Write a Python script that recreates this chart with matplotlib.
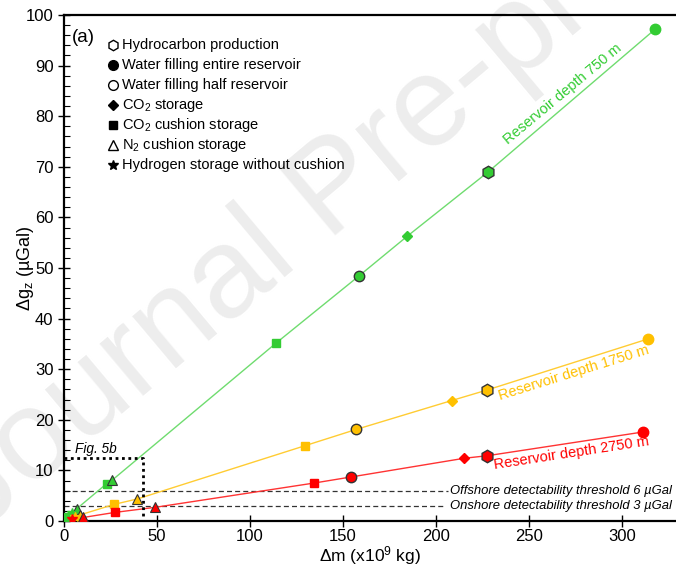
import numpy as np
import matplotlib
matplotlib.use('Agg')
import matplotlib.pyplot as plt

plt.rcParams['font.family'] = ['Liberation Sans', 'DejaVu Sans']
plt.rcParams['mathtext.fontset'] = 'custom'
plt.rcParams['mathtext.rm'] = 'Liberation Sans'
plt.rcParams['mathtext.it'] = 'Liberation Sans:italic'

#Depths and colours
depths = ['750 m', '1750 m', '2750 m']
colors = ['#33cc33', '#ffc000', '#ff0000']
line_colors = ['#6fdc6f', '#ffcc33', '#ff3333']

#Hydrocarbon production (hexagons)
hc_x = [228.2, 227.7, 227.7]
hc_y = [69.0, 25.9, 12.9]
#Water filling entire reservoir
full_x = [318.0, 314.3, 311.6]
full_y = [97.2, 36.0, 17.6]
#Water filling half reservoir
half_x = [158.9, 157.2, 154.4]
half_y = [48.5, 18.1, 8.7]
#CO2 storage
co2_x = [184.7, 208.5, 215.3]
co2_y = [56.3, 23.8, 12.4]
#CO2 cushion storage
cush_x = [[114.2, 23.0, 2.0], [129.8, 27.1], [134.5, 27.4]]
cush_y = [[35.2, 7.4, 0.8], [14.9, 3.3], [7.5, 1.7]]
#N2 cushion storage
n2_x = [[26.0, 6.8], [39.4, 8.6], [49.0, 10.4]]
n2_y = [[8.1, 2.4], [4.35, 1.2], [2.7, 0.7]]
#Hydrogen storage without cushion
h2_x = [[1.5, 4.5], [6.0], [4.5]]
h2_y = [[0.6, 1.5], [0.8], [0.35]]

#Thresholds and zoom box
thr_y = [6, 3]
thr_end = [206.5, 204.0]
thr_txt = ['Offshore detectability threshold 6 \u00b5Gal',
           'Onshore detectability threshold 3 \u00b5Gal']
box_x, box_y = 42.4, 12.4

#Label positions along the lines (x), above (+1) or below (-1)
lab_x = [272.0, 272.7, 272.0]
lab_side = [1, -1, -1]

#Legend
leg_labels = ['Hydrocarbon production', 'Water filling entire reservoir',
              'Water filling half reservoir', 'CO$_2$ storage', 'CO$_2$ cushion storage',
              'N$_2$ cushion storage', 'Hydrogen storage without cushion']
leg_markers = ['h', 'o', 'o', 'D', 's', '^', '*']
leg_filled = [False, True, False, True, True, False, True]
leg_sizes = [7.5, 7, 7, 5.5, 6, 7.5, 7.5]

W, H = 676, 567
fig = plt.figure(figsize=(W/100, H/100), dpi=100)
ax = fig.add_axes([64/W, 1-521/H, 1.0-64/W, (521-15)/H])
ax.set_xlim(0, 329.2)
ax.set_ylim(0, 100)

#Watermark (behind the axes)
fig.text(-0.03, 0.06, 'Journal Pre-proof', fontsize=92, color='#ededed',
         rotation=40, rotation_mode='anchor', ha='left', va='baseline', zorder=-1)
ax.set_facecolor('none')

for i in range(3):
    c = colors[i]
    xs = [0] + [hc_x[i], full_x[i], half_x[i], co2_x[i]] + cush_x[i] + n2_x[i] + h2_x[i]
    ys = [0] + [hc_y[i], full_y[i], half_y[i], co2_y[i]] + cush_y[i] + n2_y[i] + h2_y[i]
    order = np.argsort(xs)
    xs = np.array(xs)[order]
    ys = np.array(ys)[order]
    ax.plot(xs, ys, '-', color=line_colors[i], lw=1, zorder=2)
    ax.plot(full_x[i], full_y[i], 'o', ms=7.5, color=c, mec=c, zorder=4)
    ax.plot(hc_x[i], hc_y[i], 'h', ms=9, color=c, mec='#333333', mew=1, zorder=4)
    ax.plot(half_x[i], half_y[i], 'o', ms=7.5, color=c, mec='#333333', mew=1, zorder=4)
    ax.plot(co2_x[i], co2_y[i], 'D', ms=5.5, color=c, mec=c, zorder=4)
    ax.plot(cush_x[i], cush_y[i], 's', ms=6, color=c, mec=c, lw=0, zorder=4)
    ax.plot(n2_x[i], n2_y[i], '^', ms=7, color=c, mec='#333333', mew=0.8, lw=0, zorder=4)
    ax.plot(h2_x[i], h2_y[i], '*', ms=7, color=c, mec=c, lw=0, zorder=4)
    #label along the line
    p0 = ax.transData.transform((0, 0))
    p1 = ax.transData.transform((full_x[i], full_y[i]))
    ang = np.degrees(np.arctan2(p1[1]-p0[1], p1[0]-p0[0]))
    ly = np.interp(lab_x[i], xs, ys)
    off = 2.5*lab_side[i]
    ax.annotate('Reservoir depth ' + depths[i], xy=(lab_x[i], ly),
                xytext=(-off*np.sin(np.radians(ang)), off*np.cos(np.radians(ang))),
                textcoords='offset points', color=c, fontsize=10.5, rotation=ang,
                rotation_mode='anchor', ha='center',
                va='bottom' if lab_side[i] > 0 else 'top', zorder=5)

#Thresholds
for y, e, t in zip(thr_y, thr_end, thr_txt):
    ax.hlines(y, 0, e, color='#333333', ls=(0, (4, 2.5)), lw=0.9, zorder=1)
    ax.text(327.0, y, t, fontsize=9.4, style='italic', ha='right', va='center', zorder=3)

#Fig 5b box
ax.plot([0, box_x, box_x], [box_y, box_y, 0], color='black', ls=(0, (1, 1.3)), lw=2, zorder=3)
ax.text(5.9, 14.3, 'Fig. 5b', fontsize=9.8, style='italic', va='center')

#Legend drawn by hand
for k in range(len(leg_labels)):
    yy = (521 - (45 + 20*k))/506
    ax.plot(0.080, yy, leg_markers[k], transform=ax.transAxes, ms=leg_sizes[k],
            mfc='black' if leg_filled[k] else 'none', mec='black', mew=1, clip_on=False)
    ax.text(0.094, yy, leg_labels[k], transform=ax.transAxes, fontsize=10.5, va='center')
ax.text(0.013, (521-37)/506, '(a)', transform=ax.transAxes, fontsize=13.5, va='center')

#Axes
for s in ['left', 'bottom', 'top']:
    ax.spines[s].set_linewidth(1.6)
ax.spines['right'].set_visible(False)
ax.set_xticks(np.arange(0, 301, 50))
ax.set_yticks(np.arange(0, 101, 10))
ax.set_yticks(np.arange(0, 101, 2), minor=True)
ax.tick_params(axis='both', which='major', direction='inout', length=8, width=1, labelsize=12)
ax.tick_params(axis='x', which='major', pad=2)
ax.tick_params(axis='y', which='minor', direction='in', length=4, width=0.8)
ax.set_xlabel('\u0394m (x10$^9$ kg)', fontsize=12.5, va='center')
ax.set_ylabel('\u0394g$_\\mathrm{z}$ (\u00b5Gal)', fontsize=13, va='center')
ax.xaxis.set_label_coords(0.5, -(556-521)/506)
ax.yaxis.set_label_coords(-(64-25)/612, 0.5)

plt.savefig('out.png', dpi=100)
